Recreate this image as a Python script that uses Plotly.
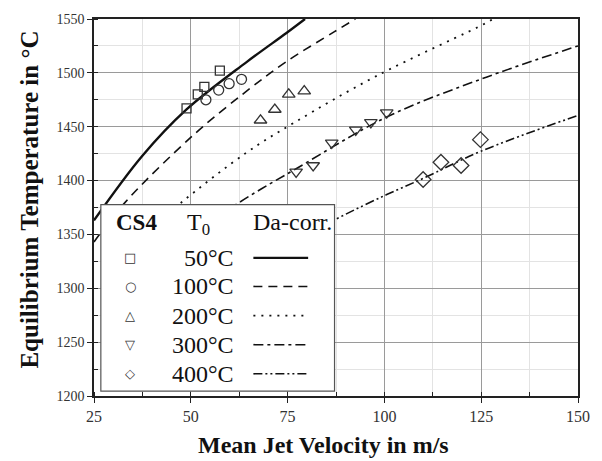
import plotly.graph_objects as go

# ---- measured data (T0 groups) ----
v50 = [48.9, 51.8, 53.5, 57.5]
t50 = [1467, 1480, 1487, 1502]
v100 = [53.9, 57.2, 59.9, 63.1]
t100 = [1475, 1484, 1490, 1494]
v200 = [68.0, 71.7, 75.3, 79.3]
t200 = [1456, 1466, 1480, 1483]
v300 = [77.2, 81.6, 86.4, 92.6, 96.5, 100.6]
t300 = [1408, 1414, 1435, 1447, 1454, 1463]
v400 = [110.0, 114.6, 119.8, 124.8]
t400 = [1401, 1417, 1414, 1438]

# ---- Da-correlation curves ----
cv50 = [25, 37.5, 48.9, 64.4, 74.7, 79.5]
ct50 = [1363, 1423, 1466, 1510, 1537, 1550]
cv100 = [25, 33.1, 50.9, 64.4, 74.5, 87.0, 92.5]
ct100 = [1343, 1380, 1443, 1483, 1510, 1538, 1550]
cv200 = [35, 47.0, 64.4, 76.8, 97.9, 126.1, 128.0]
ct200 = [1340, 1378, 1426, 1454, 1497, 1546, 1550]
cv300 = [45, 61.8, 77.2, 100.6, 124.8, 150]
ct300 = [1335, 1378, 1411, 1459, 1494, 1525]
cv400 = [70, 87.4, 100.6, 110.0, 124.8, 150]
ct400 = [1330, 1364, 1387, 1402, 1427, 1460.5]

labels = ["50°C", "100°C", "200°C", "300°C", "400°C"]
x_ticks = [25, 50, 75, 100, 125, 150]
y_ticks = [1200, 1250, 1300, 1350, 1400, 1450, 1500, 1550]

SERIF = "Liberation Serif"
INK = "#222"

fig = go.Figure()

curves = [(cv50, ct50, "solid", 2.4), (cv100, ct100, "9px,6px", 1.6),
          (cv200, ct200, "2px,6px", 1.8), (cv300, ct300, "10px,4px,3px,4px", 1.6),
          (cv400, ct400, "9px,3px,2px,3px,2px,3px", 1.6)]
for cx, cy, dash, w in curves:
    fig.add_trace(go.Scatter(x=cx, y=cy, mode="lines", line_shape="spline",
                             line=dict(color="#111", width=w, dash=dash),
                             showlegend=False, hoverinfo="skip"))

points = [(v50, t50, "square-open", 9), (v100, t100, "circle-open", 10),
          (v200, t200, "triangle-up-open", 11), (v300, t300, "triangle-down-open", 11),
          (v400, t400, "diamond-open", 12)]
for px_, py_, sym, sz in points:
    fig.add_trace(go.Scatter(x=px_, y=py_, mode="markers",
                             marker=dict(symbol=sym, size=sz, color="#333",
                                         line=dict(color="#333", width=1.3)),
                             showlegend=False))

# pixel -> paper helpers
L, T, W, H = 94, 14, 495, 382
def ppx(x):
    return (x - L) / W
def ppy(y):
    return (T + H - y) / H

shapes = [dict(type="rect", xref="paper", yref="paper",
               x0=ppx(101), x1=ppx(340), y0=ppy(391), y1=ppy(202),
               fillcolor="white", line=dict(color="#555", width=1.2), layer="above")]
row_y = [256, 285, 314.5, 344, 373.5]
for (cx, cy, dash, w), ry in zip(curves, row_y):
    shapes.append(dict(type="line", xref="paper", yref="paper",
                       x0=ppx(257), x1=ppx(313), y0=ppy(ry), y1=ppy(ry),
                       line=dict(color="#111", width=w, dash=dash), layer="above"))

annotations = [
    dict(text="<b>Mean Jet Velocity in m/s</b>", xref="paper", yref="paper",
         x=ppx(329), y=ppy(446), showarrow=False, xanchor="center", yanchor="middle",
         font=dict(family=SERIF, size=24, color="#111")),
    dict(text="<b>Equilibrium Temperature in °C</b>", xref="paper", yref="paper",
         x=ppx(28), y=ppy(196.5), showarrow=False, textangle=-90,
         xanchor="center", yanchor="middle",
         font=dict(family=SERIF, size=25, color="#111")),
    dict(text="<b>CS4</b>", xref="paper", yref="paper", x=ppx(137), y=ppy(220),
         showarrow=False, xanchor="center", yanchor="middle",
         font=dict(family=SERIF, size=23, color="#111")),
    dict(text="T<sub>0</sub>", xref="paper", yref="paper", x=ppx(201), y=ppy(222),
         showarrow=False, xanchor="center", yanchor="middle",
         font=dict(family=SERIF, size=24, color="#111")),
    dict(text="Da-corr.", xref="paper", yref="paper", x=ppx(297), y=ppy(220),
         showarrow=False, xanchor="center", yanchor="middle",
         font=dict(family=SERIF, size=24, color="#111")),
]
glyphs = ["□", "○", "△", "▽", "◇"]
for g, lab, ry in zip(glyphs, labels, row_y):
    annotations.append(dict(text=g, xref="paper", yref="paper", x=ppx(131), y=ppy(ry),
                            showarrow=False, xanchor="center", yanchor="middle",
                            font=dict(family="DejaVu Sans", size=13, color="#333")))
    annotations.append(dict(text=lab, xref="paper", yref="paper", x=ppx(239), y=ppy(ry),
                            showarrow=False, xanchor="right", yanchor="middle",
                            font=dict(family=SERIF, size=24, color="#111")))

axis_common = dict(showline=True, linecolor=INK, linewidth=1.5, mirror=True,
                   ticks="outside", ticklen=5, tickcolor=INK, tickwidth=1.2,
                   showgrid=True, gridcolor="#9a9a9a", gridwidth=1.2, zeroline=False)

fig.update_xaxes(range=[25, 150], tickvals=x_ticks, ticktext=[str(v) for v in x_ticks],
                 tickfont=dict(family=SERIF, size=16, color="#333"),
                 minor=dict(dtick=12.5, tick0=25, showgrid=True, gridcolor="#e3e3e3",
                            ticks="inside", ticklen=4, tickcolor=INK),
                 **axis_common)
fig.update_yaxes(range=[1200, 1550], tickvals=y_ticks, ticktext=[str(v) for v in y_ticks],
                 tickfont=dict(family=SERIF, size=14, color="#333"),
                 minor=dict(dtick=25, tick0=1200, showgrid=True, gridcolor="#e3e3e3",
                            ticks="inside", ticklen=4, tickcolor=INK),
                 **axis_common)

fig.update_layout(width=602, height=461, margin=dict(l=L, r=602 - L - W, t=T, b=461 - T - H),
                  plot_bgcolor="white", paper_bgcolor="white",
                  shapes=shapes, annotations=annotations, showlegend=False)

fig.write_html("out.html")
